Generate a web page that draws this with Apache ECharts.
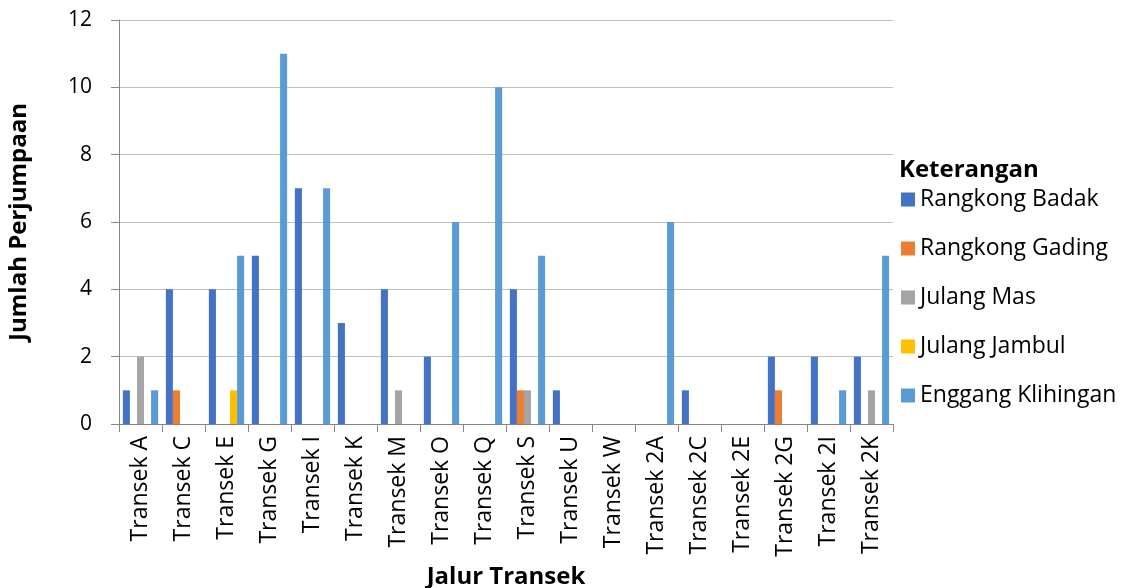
<!DOCTYPE html>
<html>
<head>
<meta charset="utf-8">
<script src="https://cdn.jsdelivr.net/npm/echarts@6/dist/echarts.min.js"></script>
<style>
  html, body { margin: 0; padding: 0; background: #fff; }
  #chart { width: 1121px; height: 588px; }
</style>
</head>
<body>
<div id="chart"></div>
<script>
const categories = ["Transek A", "Transek C", "Transek E", "Transek G", "Transek I", "Transek K",
    "Transek M", "Transek O", "Transek Q", "Transek S", "Transek U", "Transek W",
    "Transek 2A", "Transek 2C", "Transek 2E", "Transek 2G", "Transek 2I", "Transek 2K"]

const rangkongBadak    = [1, 4, 4, 5, 7, 3, 4, 2, 0, 4, 1, 0, 0, 1, 0, 2, 2, 2]
const rangkongGading   = [0, 1, 0, 0, 0, 0, 0, 0, 0, 1, 0, 0, 0, 0, 0, 1, 0, 0]
const julangMas        = [2, 0, 0, 0, 0, 0, 1, 0, 0, 1, 0, 0, 0, 0, 0, 0, 0, 1]
const julangJambul     = [0, 0, 1, 0, 0, 0, 0, 0, 0, 0, 0, 0, 0, 0, 0, 0, 0, 0]
const enggangKlihingan = [1, 0, 5, 11, 7, 0, 0, 6, 10, 5, 0, 0, 6, 0, 0, 0, 1, 5]

const font = "'Open Sans', sans-serif"

let chart = echarts.init(document.getElementById("chart"))

function bar(name, data, color) {
    return {
        name: name,
        type: 'bar',
        data: data,
        barGap: '0%',
        barCategoryGap: '18%',
        itemStyle: { color: color }
    }
}

let option = {
    animation: false,
    textStyle: { fontFamily: font },
    title: {
        text: 'Keterangan',
        left: 894,
        top: 153,
        textStyle: { fontFamily: font, fontSize: 24, fontWeight: 'bold', color: '#000' }
    },
    legend: {
        orient: 'vertical',
        left: 896,
        top: 183,
        itemWidth: 14,
        itemHeight: 14,
        itemGap: 26,
        icon: 'rect',
        textStyle: { fontFamily: font, fontSize: 23, color: '#000' },
        data: ['Rangkong Badak', 'Rangkong Gading', 'Julang Mas', 'Julang Jambul', 'Enggang Klihingan']
    },
    grid: {
        left: 119,
        right: 228,
        top: 20,
        bottom: 164,
        outerBoundsMode: 'none',
        containLabel: false
    },
    xAxis: {
        type: 'category',
        data: categories,
        name: 'Jalur Transek',
        nameLocation: 'middle',
        nameGap: 141,
        nameTextStyle: { fontFamily: font, fontSize: 24, fontWeight: 'bold', color: '#000' },
        axisLine: { lineStyle: { color: '#868686' } },
        axisTick: { show: true, length: 8, lineStyle: { color: '#868686' } },
        axisLabel: {
            rotate: 90,
            interval: 0,
            margin: 12,
            fontSize: 23,
            color: '#000'
        }
    },
    yAxis: {
        type: 'value',
        min: 0,
        max: 12,
        interval: 2,
        name: 'Jumlah Perjumpaan',
        nameLocation: 'middle',
        nameGap: 88,
        nameTextStyle: { fontFamily: font, fontSize: 24, fontWeight: 'bold', color: '#000' },
        axisLine: { show: true, lineStyle: { color: '#868686' } },
        axisTick: { show: true, length: 8, lineStyle: { color: '#868686' } },
        axisLabel: { fontSize: 21, color: '#000', margin: 27 },
        splitLine: { lineStyle: { color: '#bfbfbf' } }
    },
    series: [
        bar('Rangkong Badak', rangkongBadak, '#4472C4'),
        bar('Rangkong Gading', rangkongGading, '#ED7D31'),
        bar('Julang Mas', julangMas, '#A5A5A5'),
        bar('Julang Jambul', julangJambul, '#FFC000'),
        bar('Enggang Klihingan', enggangKlihingan, '#5B9BD5')
    ]
}

chart.setOption(option)
</script>
</body>
</html>
